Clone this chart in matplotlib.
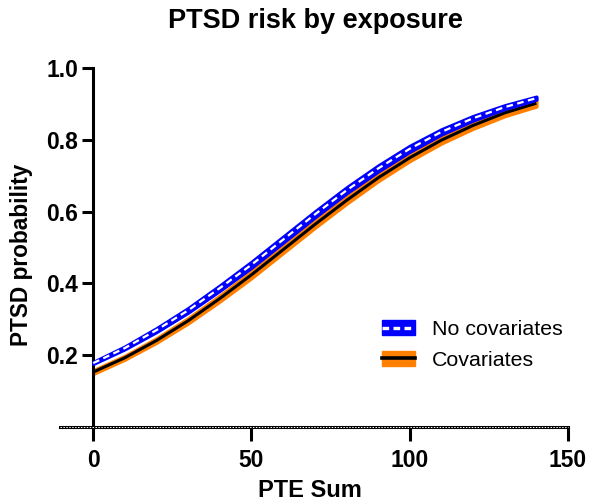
import matplotlib
matplotlib.use("Agg")
import matplotlib.pyplot as plt
from matplotlib.patches import Patch
from matplotlib.lines import Line2D

plt.rcParams['font.family'] = ['Liberation Sans', 'DejaVu Sans']

# PTE sum grid
pte_sum = [0, 10, 20, 30, 40, 50, 60, 70, 80, 90, 100, 110, 120, 130, 140]

# Predicted PTSD probability, model without covariates
prob_nocov = [0.178, 0.220, 0.270, 0.325, 0.387, 0.452, 0.522, 0.592,
              0.659, 0.720, 0.775, 0.822, 0.860, 0.891, 0.916]
nocov_lo = [0.176, 0.217, 0.265, 0.319, 0.380, 0.444, 0.514, 0.584,
            0.651, 0.712, 0.767, 0.815, 0.854, 0.886, 0.912]
nocov_hi = [0.181, 0.224, 0.275, 0.331, 0.394, 0.460, 0.530, 0.600,
            0.667, 0.728, 0.783, 0.829, 0.866, 0.896, 0.920]

# Predicted PTSD probability, model with covariates
prob_cov = [0.153, 0.193, 0.241, 0.296, 0.358, 0.424, 0.494, 0.564,
            0.631, 0.694, 0.750, 0.799, 0.840, 0.875, 0.902]
cov_lo = [0.148, 0.188, 0.235, 0.289, 0.350, 0.415, 0.485, 0.555,
          0.622, 0.685, 0.741, 0.790, 0.831, 0.866, 0.893]
cov_hi = [0.158, 0.198, 0.247, 0.303, 0.366, 0.433, 0.503, 0.573,
          0.640, 0.703, 0.759, 0.808, 0.849, 0.884, 0.911]

x_ticks = [0, 50, 100, 150]
y_ticks = [0.2, 0.4, 0.6, 0.8, 1.0]

blue = "#0000FF"
orange = "#FF8000"

fig = plt.figure(figsize=(5.90, 5.01), dpi=100)
ax = fig.add_axes([60 / 590, 74 / 501, 508 / 590, 359 / 501])

# Covariate-adjusted model: orange band, black line
ax.fill_between(pte_sum, cov_lo, cov_hi, color=orange, lw=2.5, edgecolor=orange, zorder=2)
ax.plot(pte_sum, prob_cov, color="black", lw=2.2, zorder=3, solid_capstyle="butt")

# Unadjusted model: blue band, white dashed line
ax.fill_between(pte_sum, nocov_lo, nocov_hi, color=blue, lw=2.5, edgecolor=blue, zorder=4)
ax.plot(pte_sum, prob_nocov, color="white", lw=1.6, dashes=(3, 2), zorder=5)

ax.set_xlim(-10.5, 150)
ax.set_ylim(0, 1.0)

for s in ("top", "right"):
    ax.spines[s].set_visible(False)
ax.spines["left"].set_position(("data", 0))
ax.spines["left"].set_linewidth(2.2)
ax.spines["bottom"].set_linewidth(2.2)
ax.spines["left"].set_bounds(0, 1.0)

# dotted overlay along the zero line
ax.plot([-10.5, 150], [0, 0], color="white", lw=0.7, dashes=(1.5, 1.5),
        zorder=6, clip_on=False)

ax.set_xticks(x_ticks)
ax.set_yticks(y_ticks)
ax.set_yticklabels([f"{v:.1f}" for v in y_ticks])
ax.tick_params(axis="both", width=2.2, labelsize=16.5, direction="out")
ax.tick_params(axis="x", length=10, pad=6)
ax.tick_params(axis="y", length=8, pad=3)
for lbl in ax.get_xticklabels() + ax.get_yticklabels():
    lbl.set_fontweight("bold")

ax.set_xlabel("PTE Sum", fontsize=17, fontweight="bold")
ax.xaxis.set_label_coords((310 - 60) / 508, (427 - 479) / 359)
ax.set_ylabel("PTSD probability", fontsize=16.3, fontweight="bold")
ax.yaxis.set_label_coords((33 - 60) / 508, (427 - 255) / 359)
fig.suptitle("PTSD risk by exposure", fontsize=19.5, fontweight="bold",
             x=315 / 590, y=0.984)

h1 = (Patch(facecolor=blue, edgecolor=blue),
      Line2D([], [], color="white", lw=2.4, dashes=(2.0, 1.3)))
h2 = (Patch(facecolor=orange, edgecolor=orange),
      Line2D([], [], color="black", lw=2.6))
ax.legend([h1, h2], ["No covariates", "Covariates"], loc="upper left",
          bbox_to_anchor=((382 - 60) / 508, (427 - 320) / 359),
          frameon=False, fontsize=15.4, borderpad=0, borderaxespad=0,
          handlelength=1.55, handleheight=0.72, handletextpad=0.8,
          labelspacing=0.55)

fig.savefig("out.png", dpi=100)
